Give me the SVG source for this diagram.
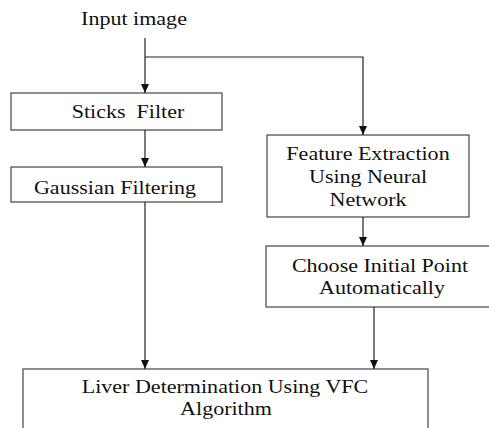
<svg xmlns="http://www.w3.org/2000/svg" width="489" height="428" viewBox="0 0 489 428">
<style>
.box{fill:#fff;stroke:#444;stroke-width:1.2}
.lbl{font-family:'Liberation Serif','Times New Roman',serif;font-size:19px;fill:#111;text-anchor:middle}
.conn{fill:none;stroke:#222;stroke-width:1.2}
</style>
<defs>
<marker id="ah" markerWidth="9" markerHeight="8" refX="9" refY="4" orient="auto" markerUnits="userSpaceOnUse" viewBox="0 0 9 8">
<path d="M0,0 L9,4 L0,8 Z" fill="#111"/>
</marker>
</defs>
<rect width="489" height="428" fill="#fff"/>
<g id="input">
<text class="lbl" transform="translate(134,25) scale(1.16,1)">Input image</text>
</g>
<g id="sticks">
<rect class="box" x="11" y="93" width="211" height="37"/>
<text class="lbl" xml:space="preserve" transform="translate(128,118) scale(1.16,1)">Sticks  Filter</text>
</g>
<g id="gaussian">
<rect class="box" x="11" y="167" width="211" height="35"/>
<text class="lbl" transform="translate(115,194) scale(1.16,1)">Gaussian Filtering</text>
</g>
<g id="feature">
<rect class="box" x="267" y="135" width="202" height="82"/>
<text class="lbl" transform="translate(368,160) scale(1.16,1)">Feature Extraction</text>
<text class="lbl" transform="translate(368,183) scale(1.16,1)">Using Neural</text>
<text class="lbl" transform="translate(368,206) scale(1.16,1)">Network</text>
</g>
<g id="choose">
<rect class="box" x="266" y="246" width="232" height="61"/>
<text class="lbl" transform="translate(380,272) scale(1.16,1)">Choose Initial Point</text>
<text class="lbl" transform="translate(382,294) scale(1.16,1)">Automatically</text>
</g>
<g id="liver">
<rect class="box" x="23" y="369" width="405" height="70"/>
<text class="lbl" transform="translate(225,393) scale(1.16,1)">Liver Determination Using VFC</text>
<text class="lbl" transform="translate(226,415) scale(1.16,1)">Algorithm</text>
</g>
<g id="connectors">
<path class="conn" d="M145,38 V93" marker-end="url(#ah)"/>
<path class="conn" d="M145,57 H363 V135" marker-end="url(#ah)"/>
<path class="conn" d="M145,130 V167" marker-end="url(#ah)"/>
<path class="conn" d="M145,202 V369" marker-end="url(#ah)"/>
<path class="conn" d="M363,217 V246" marker-end="url(#ah)"/>
<path class="conn" d="M374,307 V369" marker-end="url(#ah)"/>
</g>
</svg>
